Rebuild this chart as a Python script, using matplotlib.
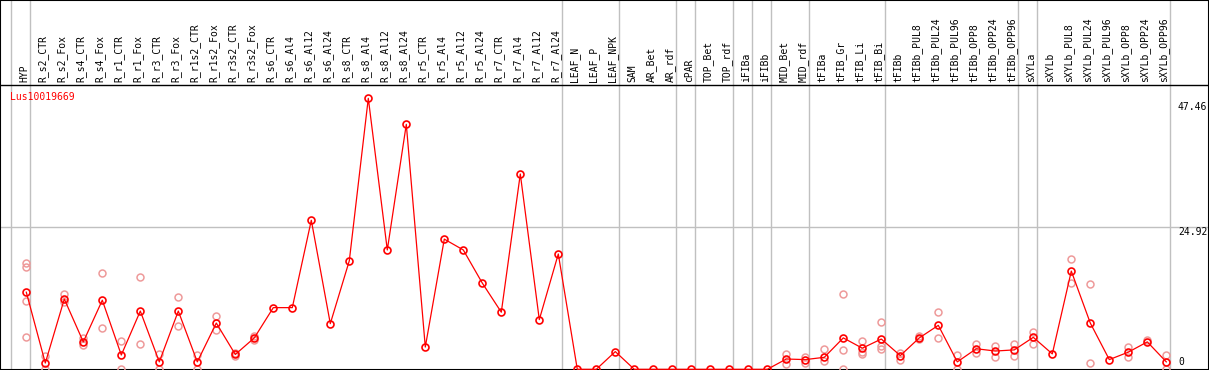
import numpy as np
import matplotlib
matplotlib.use('Agg')
import matplotlib.pyplot as plt

labels = ['HYP', 'R_s2_CTR', 'R_s2_Fox', 'R_s4_CTR', 'R_s4_Fox', 'R_r1_CTR', 'R_r1_Fox',
          'R_r3_CTR', 'R_r3_Fox', 'R_r1s2_CTR', 'R_r1s2_Fox', 'R_r3s2_CTR', 'R_r3s2_Fox',
          'R_s6_CTR', 'R_s6_Al4', 'R_s6_Al12', 'R_s6_Al24', 'R_s8_CTR', 'R_s8_Al4',
          'R_s8_Al12', 'R_s8_Al24', 'R_r5_CTR', 'R_r5_Al4', 'R_r5_Al12', 'R_r5_Al24',
          'R_r7_CTR', 'R_r7_Al4', 'R_r7_Al12', 'R_r7_Al24', 'LEAF_N', 'LEAF_P', 'LEAF_NPK',
          'SAM', 'AR_Bet', 'AR_rdf', 'cPAR', 'TOP_Bet', 'TOP_rdf', 'iFIBa', 'iFIBb',
          'MID_Bet', 'MID_rdf', 'tFIBa', 'tFIB_Gr', 'tFIB_Li', 'tFIB_Bi', 'tFIBb',
          'tFIBb_PUL8', 'tFIBb_PUL24', 'tFIBb_PUL96', 'tFIBb_OPP8', 'tFIBb_OPP24',
          'tFIBb_OPP96', 'sXYLa', 'sXYLb', 'sXYLb_PUL8', 'sXYLb_PUL24', 'sXYLb_PUL96',
          'sXYLb_OPP8', 'sXYLb_OPP24', 'sXYLb_OPP96']

means = [13.5, 1.1, 12.3, 4.8, 12.1, 2.5, 10.2, 1.3, 10.2, 1.3, 8.1, 2.6, 5.5, 10.8, 10.8,
         26.1, 8.0, 19.0, 47.46, 20.9, 42.9, 3.9, 22.8, 20.9, 15.1, 10.0, 34.2, 8.7, 20.2,
         0, 0, 3.1, 0, 0, 0, 0, 0, 0, 0, 0, 1.8, 1.7, 2.1, 5.5, 3.7, 5.3, 2.4, 5.5, 7.7,
         1.3, 3.6, 3.2, 3.4, 5.6, 2.7, 17.2, 8.1, 1.7, 3.0, 4.8, 1.3]

reps = [[18.7, 17.9, 12.0, 5.6], [2.4, 0.1], [13.1, 11.8], [5.5, 4.2], [16.8, 7.2],
        [4.9, 0.0], [16.1, 4.4], [2.6, 0.1], [12.7, 7.6], [2.5, 0.1], [9.4, 6.8],
        [2.4, 2.8], [5.2, 5.8]] + [[]] * 27 + \
       [[2.6, 0.9], [2.2, 1.1], [3.5, 1.4], [13.2, 3.4, 0.1], [5.0, 3.0, 2.7],
        [8.3, 4.0, 3.5], [2.9, 1.7], [5.9, 5.3], [10.0, 5.5], [2.5, 0.1], [4.5, 2.9],
        [4.1, 2.1], [4.4, 2.4], [6.6, 4.4], [], [19.3, 15.2], [14.9, 1.1], [],
        [3.9, 2.1], [5.2], [2.5, 0.1]]

# group separators come after these columns
group_ends = [-1, 0, 28, 31, 34, 35, 37, 38, 39, 41, 45, 52, 53, 60]
yticks = [47.46, 24.92, 0]

# pixel layout: column i at 26.3 + 19*i, value 0 at y=369.3, 5.71 px per unit
x0, dx = 26.3, 19.0
y0, dy = 369.3, 5.71

fig = plt.figure(figsize=(12.09, 3.70), dpi=100)
ax = fig.add_axes([0, 0, 1, 1])
ax.set_xlim((0 - x0) / dx, (1209 - x0) / dx)
ax.set_ylim((y0 - 370) / dy, y0 / dy)
ax.set_xticks([])
ax.set_yticks([])
for s in ax.spines.values():
    s.set_linewidth(1.5)
    s.set_color('black')

xs = np.arange(len(labels))

for g in group_ends:
    ax.axvline(g + 0.22, color='#c0c0c0', lw=1.0, zorder=1)
ax.axhline(24.92, color='#c0c0c0', lw=1.0, zorder=1)
ax.axhline((y0 - 85) / dy, color='black', lw=1.0, zorder=2)

mono = 'DejaVu Sans Mono'
for i, lab in enumerate(labels):
    ax.text(i - 0.12, (y0 - 82) / dy, lab, rotation=90, ha='center', va='bottom',
            family=mono, fontsize=7)

for i, r in enumerate(reps):
    if r:
        ax.plot([i] * len(r), r, 'o', ms=5, mfc='none', mec='#ee9a9a', mew=1.1, zorder=3)

ax.plot(xs, means, '-', color='red', lw=0.9, zorder=4)
ax.plot(xs, means, 'o', ms=5, mfc='none', mec='red', mew=1.2, zorder=5)

ax.text((10 - x0) / dx, (y0 - 97) / dy, 'Lus10019669', color='red', ha='left',
        va='center', family=mono, fontsize=7)

tick_px = {47.46: 106.7, 24.92: 232.0, 0: 361.7}
for v in yticks:
    ax.text((1178 - x0) / dx, (y0 - tick_px[v]) / dy, str(v), ha='left', va='center',
            family=mono, fontsize=7)

fig.savefig('out.png', dpi=100)
